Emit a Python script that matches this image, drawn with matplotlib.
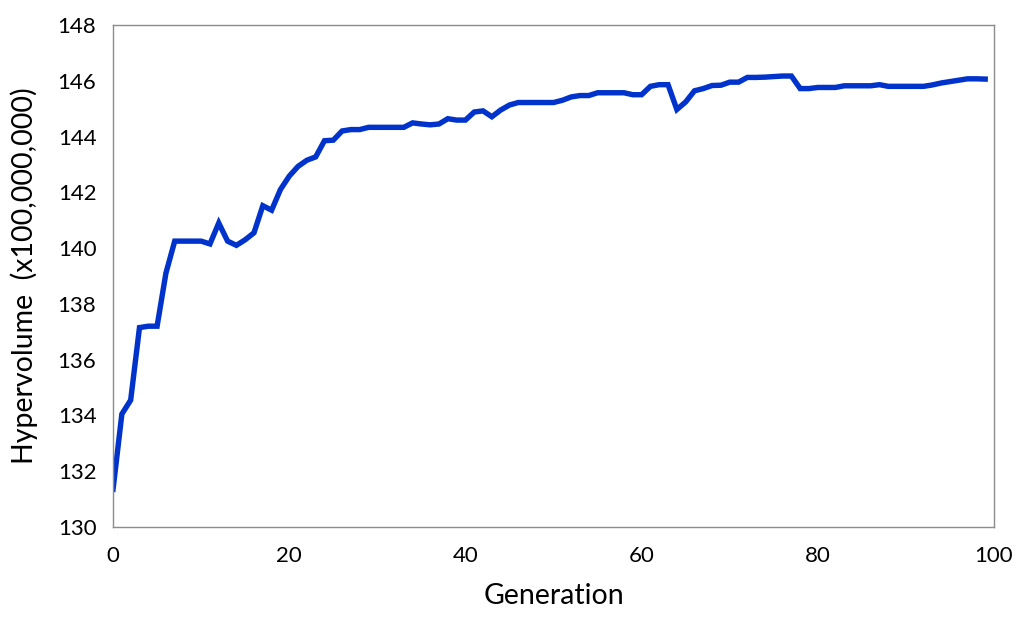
import matplotlib
matplotlib.use("Agg")
import matplotlib.pyplot as plt

generations = list(range(100))
hypervolume = [
    131.35, 134.05, 134.55, 137.15, 137.2, 137.2, 139.1, 140.25, 140.25, 140.25,
    140.25, 140.15, 140.9, 140.25, 140.1, 140.3, 140.55, 141.52, 141.36, 142.1,
    142.58, 142.93, 143.15, 143.27, 143.85, 143.87, 144.2, 144.25, 144.25, 144.33,
    144.33, 144.33, 144.33, 144.33, 144.49, 144.45, 144.42, 144.45, 144.64, 144.59,
    144.59, 144.88, 144.92, 144.71, 144.95, 145.13, 145.22, 145.22, 145.22, 145.22,
    145.22, 145.3, 145.42, 145.47, 145.47, 145.57, 145.57, 145.57, 145.57, 145.5,
    145.5, 145.8, 145.86, 145.86, 144.97, 145.24, 145.64, 145.72, 145.83, 145.84,
    145.95, 145.95, 146.12, 146.12, 146.13, 146.15, 146.17, 146.17, 145.72, 145.72,
    145.76, 145.76, 145.76, 145.82, 145.82, 145.82, 145.82, 145.86, 145.8, 145.8,
    145.8, 145.8, 145.8, 145.85, 145.92, 145.97, 146.02, 146.07, 146.07, 146.06,
]
x_ticks = [0, 20, 40, 60, 80, 100]
y_ticks = [130, 132, 134, 136, 138, 140, 142, 144, 146, 148]

plt.rcParams['font.family'] = ['Lato', 'DejaVu Sans']

fig = plt.figure(figsize=(10.24, 6.2), dpi=100)
ax = fig.add_axes([0.1104, 0.15, 0.8603, 0.8097])
ax.plot(generations, hypervolume, color='#0033CC', linewidth=3.9, solid_joinstyle='miter')
ax.set_xlim(0, 100)
ax.set_ylim(130, 148)
ax.set_xticks(x_ticks)
ax.set_yticks(y_ticks)
ax.tick_params(axis='both', length=0, labelsize=16, colors='#000000')
ax.tick_params(axis='x', pad=14)
ax.tick_params(axis='y', pad=12)
for s in ax.spines.values():
    s.set_color('#8c8c8c')
    s.set_linewidth(1.0)
ax.set_xlabel('Generation', fontsize=20.5, labelpad=12)
ax.set_ylabel('Hypervolume  (x100,000,000)', fontsize=20.5, labelpad=14)

fig.savefig('out.png', dpi=100)
